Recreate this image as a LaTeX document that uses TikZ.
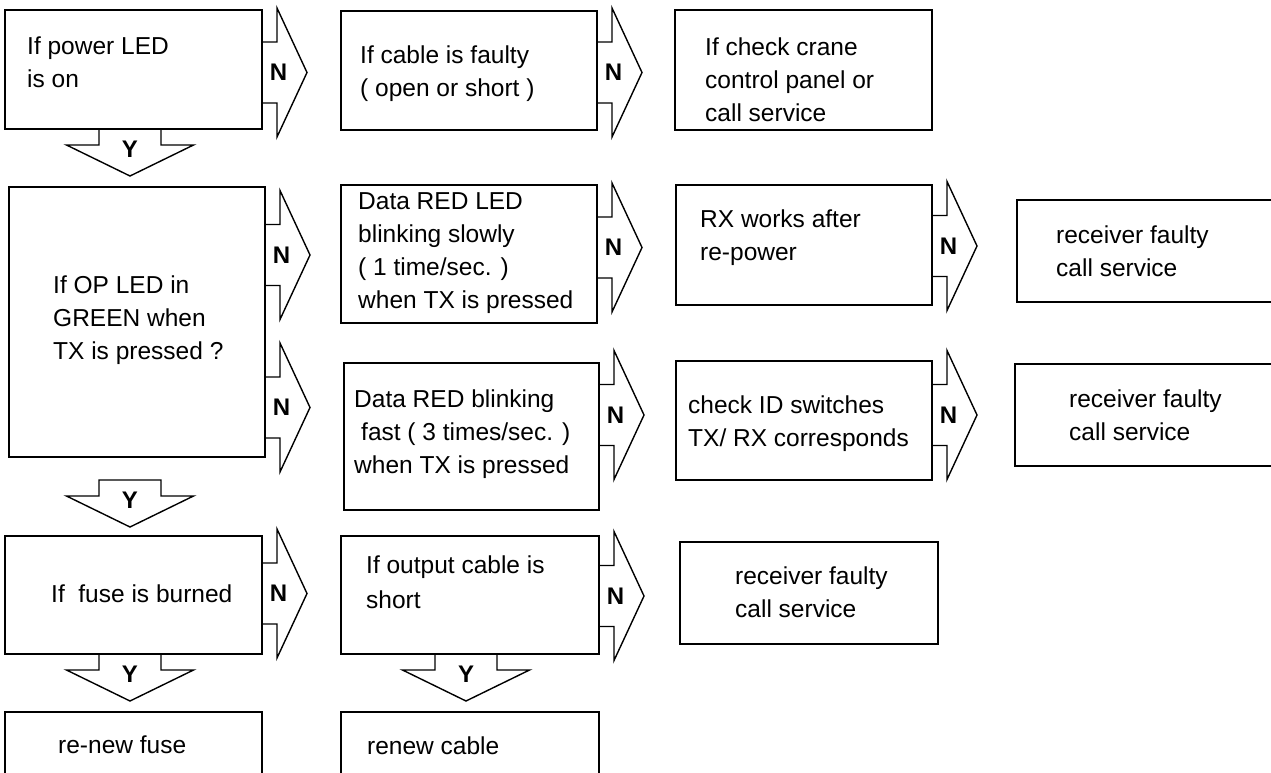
\documentclass[tikz,border=0pt]{standalone}
\usepackage{fontspec}
\setmainfont{Liberation Sans}
\usetikzlibrary{
  positioning
}

% block arrow to the right, #1 = point on the box edge, #2 = name of the label
\newcommand\noarrow[2]{%
  \draw[blk] (#1) ++(0,-30.5) -- ++(15,0) -- ++(0,-34) -- ++(30,64.5)
    -- ++(-30,64.5) -- ++(0,-34) -- ++(-15,0);
  \path (#1) ++(16.5,0) node[yn] (#2) {N};}
% block arrow downwards, #2 = top of the shaft, #3 = name of the label
\newcommand\yesarrow[3][]{%
  \draw[blk] (#2) ++(-31,0) -- ++(0,16) -- ++(-32.5,0) -- ++(63.5,31)
    -- ++(63.5,-31) -- ++(-32.5,0) -- ++(0,-16) #1;
  \path (#2) ++(0,20) node[yn] (#3) {Y};}

\begin{document}
\begin{tikzpicture}[
  x=1pt, y=-1pt,
  box/.style={draw, line width=1.5pt, anchor=north west, inner sep=0, outer sep=0},
  txt/.style={anchor=north west, inner sep=0, align=left,
    font=\fontsize{24.5}{33}\selectfont},
  blk/.style={line width=1.4pt, line join=miter},
  yn/.style={inner sep=0, font=\bfseries\fontsize{24}{24}\selectfont},
]
\useasboundingbox (0,0) rectangle (1271,773);
\clip (0,0) rectangle (1271,773);

% boxes
\node[box, minimum width=257pt, minimum height=119pt] (power) at (5,10) {};
\node[box, minimum width=256pt, minimum height=119pt] (cable) at (341,11) {};
\node[box, minimum width=257pt, minimum height=120pt] (crane) at (675,10) {};
\node[box, minimum width=256pt, minimum height=270pt] (opled) at (9,187) {};
\node[box, minimum width=256pt, minimum height=138pt] (slow) at (341,185) {};
\node[box, minimum width=255pt, minimum height=147pt] (fast) at (344,363) {};
\node[box, minimum width=256pt, minimum height=120pt] (rxpower) at (676,185) {};
\node[box, minimum width=256pt, minimum height=119pt] (idsw) at (676,361) {};
\node[box, minimum width=270pt, minimum height=102pt] (recvA) at (1017,200) {};
\node[box, minimum width=270pt, minimum height=102pt] (recvB) at (1015,364) {};
\node[box, minimum width=257pt, minimum height=118pt] (fuse) at (5,536) {};
\node[box, minimum width=258pt, minimum height=118pt] (outcable) at (341,536) {};
\node[box, minimum width=258pt, minimum height=102pt] (recvC) at (680,542) {};
\node[box, minimum width=257pt, minimum height=80pt] (newfuse) at (5,712) {};
\node[box, minimum width=258pt, minimum height=80pt] (newcable) at (341,712) {};

% texts
\node[txt] (power-t) at (27,36.3) {If power LED\\is on};
\node[txt] (cable-t) at (360,45.3) {If cable is faulty\\( open or short )};
\node[txt] (crane-t) at (705,37.3) {If check crane\\control panel or\\call service};
\node[txt] (opled-t) at (53,275.3) {If OP LED in\\GREEN when\\TX is pressed ?};
\node[txt] (slow-t) at (358,192.3) {Data RED LED\\blinking slowly\\( 1 time/sec. )\\when TX is pressed};
\node[txt] (fast-t) at (354,389.3) {Data RED blinking\\\hspace{7pt}fast ( 3 times/sec. )\\when TX is pressed};
\node[txt] (rxpower-t) at (700,209.3) {RX works after\\re-power};
\node[txt] (idsw-t) at (688,395.3) {check ID switches\\TX/ RX corresponds};
\node[txt] (recvA-t) at (1056,225.3) {receiver faulty\\call service};
\node[txt] (recvB-t) at (1069,389.3) {receiver faulty\\call service};
\node[txt] (fuse-t) at (51,584.3) {If\ \ fuse is burned};
\node[txt] (outcable-t) at (366,555.3) {If output cable is\\[2pt]short};
\node[txt] (recvC-t) at (735,566.3) {receiver faulty\\call service};
\node[txt] (newfuse-t) at (58,735.3) {re-new fuse};
\node[txt] (newcable-t) at (367,736.3) {renew cable};

% N arrows
\noarrow{power.east |- 0,72.5}{n1}
\noarrow{cable.east |- 0,72.5}{n2}
\noarrow{opled.east |- 0,255}{n3}
\noarrow{opled.east |- 0,407.5}{n4}
\noarrow{slow.east |- 0,247.5}{n5}
\noarrow{fast.east |- 0,415}{n6}
\noarrow{rxpower.east |- 0,246}{n7}
\noarrow{idsw.east |- 0,415}{n8}
\noarrow{fuse.east |- 0,593.5}{n9}
\noarrow{outcable.east |- 0,596}{n10}

% Y arrows
\yesarrow{power.south -| 130,0}{y1}
\yesarrow[-- cycle]{130,480}{y2}
\yesarrow{fuse.south -| 130,0}{y3}
\yesarrow{outcable.south -| 466,0}{y4}
\end{tikzpicture}
\end{document}
